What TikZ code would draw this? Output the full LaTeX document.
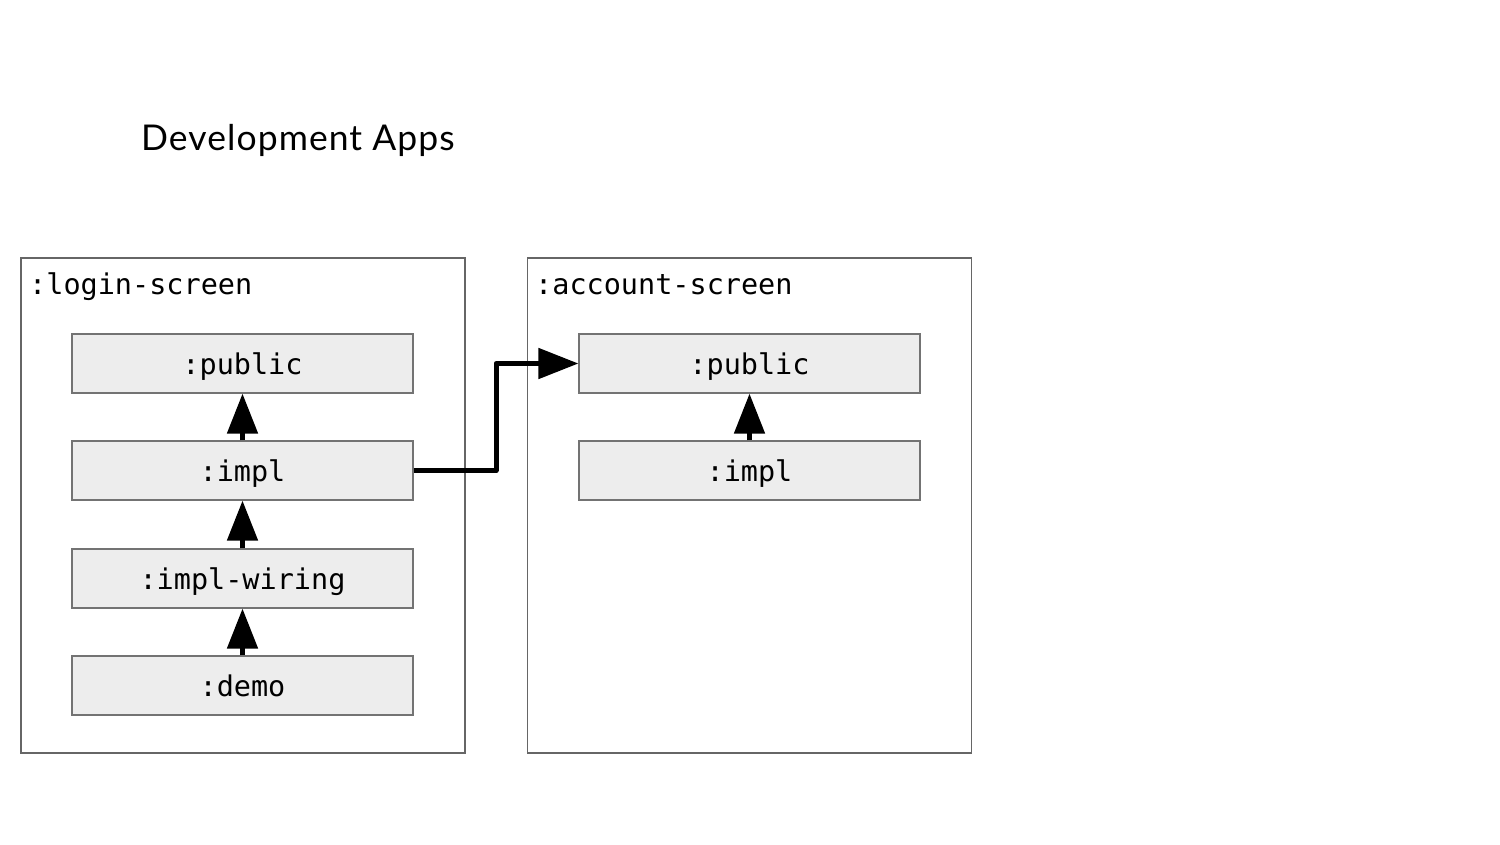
\documentclass[tikz,border=0pt]{standalone}
\usepackage{fontspec}
\setmonofont{DejaVu Sans Mono}
\newfontfamily\titlefont[LetterSpace=3]{Lato}
\usetikzlibrary{arrows.meta}
\tikzset{
  outerbox/.style={draw=black!60, line width=1.2pt, minimum width=444pt, minimum height=495pt, inner sep=0pt},
  modbox/.style={draw=black!55, fill=black!7, line width=1.2pt, minimum width=341pt, minimum height=59pt, inner sep=0pt,
    text height=28pt, text depth=6pt, font=\fontsize{28.5}{30}\selectfont\ttfamily},
  boxlabel/.style={anchor=base west, inner sep=0pt, font=\fontsize{28.5}{30}\selectfont\ttfamily},
  dep/.style={line width=5pt, -{Triangle[length=40pt,width=30pt]}, line join=round},
}
\begin{document}
\begin{tikzpicture}[x=1pt,y=-1pt]
\useasboundingbox[fill=white] (0,0) rectangle (1500,844);
\node[anchor=base west, inner sep=0pt, font=\fontsize{35.5}{40}\selectfont\titlefont] (title) at (141,150) {Development Apps};
\node[outerbox] (lbox) at (243,505.5) {};
\node[outerbox] (rbox) at (749.5,505.5) {};
\node[boxlabel] (llab) at (29,294) {:login-screen};
\node[boxlabel] (rlab) at (535,294) {:account-screen};
\node[modbox] (lpub) at (242.5,363.5) {:public};
\node[modbox] (limpl) at (242.5,470.5) {:impl};
\node[modbox] (lwire) at (242.5,578.5) {:impl-wiring};
\node[modbox] (ldemo) at (242.5,685.5) {:demo};
\node[modbox] (rpub) at (749.5,363.5) {:public};
\node[modbox] (rimpl) at (749.5,470.5) {:impl};
\draw[dep] (limpl) -- (lpub);
\draw[dep] (lwire) -- (limpl);
\draw[dep] (ldemo) -- (lwire);
\draw[dep] (rimpl) -- (rpub);
\coordinate (bend) at (496,470.5);
\draw[dep] (limpl.east) -- (bend) |- (rpub.west);
\end{tikzpicture}
\end{document}
